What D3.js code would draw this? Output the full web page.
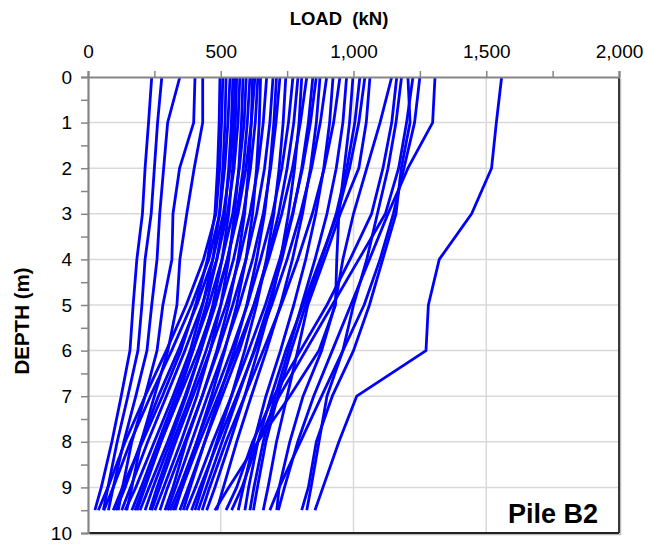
<!DOCTYPE html>
<html>
<head>
<meta charset="utf-8">
<script src="https://cdn.jsdelivr.net/npm/d3@7"></script>
<style>
  body { margin: 0; background: #fff; }
  text { font-family: "Liberation Sans", Arial, sans-serif; }
</style>
</head>
<body>
<svg id="chart" width="650" height="550"></svg>
<script>
// depths (m) at which each pile load profile was read
const depths = [0, 1, 2, 3, 4, 5, 6, 7, 8, 9, 9.5];

const xTicks = [0, 500, 1000, 1500, 2000];
const yTicks = [0, 1, 2, 3, 4, 5, 6, 7, 8, 9, 10];

// left group, nearly vertical near the top
const leftLoads = [
  [240, 228, 215, 205, 184, 170, 158, 125, 90, 50, 26],
  [278, 262, 250, 238, 215, 203, 188, 150, 110, 75, 58],
  [346, 300, 285, 270, 260, 240, 222, 180, 135, 95, 77],
  [403, 398, 345, 320, 316, 282, 260, 215, 165, 130, 114],
  [432, 432, 400, 372, 346, 335, 301, 250, 200, 165, 146]
];

// main bundle
const midLoads = [
  [497, 494, 488, 478, 450, 405, 350, 280, 205, 130, 95],
  [508, 503, 496, 482, 435, 370, 295, 215, 140, 75, 39],
  [520, 516, 508, 495, 470, 432, 385, 320, 250, 180, 140],
  [535, 527, 515, 496, 455, 390, 315, 235, 160, 95, 60],
  [546, 540, 530, 515, 485, 445, 395, 340, 275, 210, 177],
  [555, 548, 535, 510, 470, 410, 340, 265, 200, 140, 105],
  [560, 555, 545, 530, 505, 470, 425, 370, 310, 245, 215],
  [572, 565, 550, 525, 485, 430, 365, 295, 225, 160, 127],
  [584, 578, 568, 552, 530, 500, 460, 410, 350, 285, 252],
  [596, 588, 570, 545, 505, 455, 395, 330, 265, 200, 165],
  [610, 600, 585, 560, 525, 480, 425, 365, 300, 230, 196],
  [620, 615, 605, 590, 565, 530, 485, 430, 370, 320, 290],
  [629, 615, 595, 565, 525, 475, 415, 345, 275, 215, 185],
  [640, 630, 612, 585, 548, 500, 445, 385, 320, 260, 233],
  [650, 645, 635, 620, 595, 560, 515, 465, 410, 355, 328],
  [673, 660, 640, 610, 570, 520, 460, 395, 330, 270, 240],
  [697, 685, 665, 635, 595, 545, 490, 430, 365, 300, 271],
  [710, 700, 685, 665, 635, 598, 550, 495, 440, 385, 359],
  [723, 708, 688, 660, 620, 570, 512, 450, 390, 330, 300],
  [745, 735, 720, 700, 672, 635, 590, 540, 485, 430, 403],
  [772, 755, 730, 695, 650, 600, 540, 475, 410, 345, 309],
  [791, 775, 750, 718, 675, 625, 570, 505, 440, 378, 346],
  [805, 795, 778, 755, 725, 688, 640, 590, 535, 478, 447],
  [824, 800, 770, 730, 680, 625, 560, 490, 420, 355, 320],
  [847, 830, 805, 772, 730, 680, 625, 565, 505, 445, 415],
  [860, 838, 808, 770, 722, 668, 605, 540, 470, 405, 370],
  [874, 860, 838, 808, 770, 725, 672, 615, 560, 510, 485],
  [899, 875, 842, 800, 750, 692, 628, 560, 490, 422, 390],
  [923, 910, 888, 858, 820, 775, 725, 670, 625, 585, 566],
  [949, 925, 890, 845, 790, 728, 660, 590, 520, 458, 430],
  [974, 960, 935, 900, 855, 805, 755, 705, 660, 625, 610],
  [998, 985, 965, 945, 937, 932, 870, 760, 640, 530, 478],
  [1024, 1005, 975, 935, 880, 820, 765, 715, 670, 638, 623],
  [1043, 1020, 985, 940, 875, 810, 745, 690, 640, 605, 591],
  [1062, 1048, 1020, 950, 890, 828, 790, 750, 710, 678, 660]
];

// right group + the one high outlier
const rightLoads = [
  [1144, 1100, 1050, 1000, 960, 930, 880, 810, 760, 720, 711],
  [1163, 1144, 1111, 1068, 987, 900, 800, 700, 620, 560, 520],
  [1181, 1160, 1130, 1090, 1050, 1000, 960, 900, 870, 840, 824],
  [1205, 1213, 1180, 1160, 1110, 1060, 1000, 920, 860, 830, 805],
  [1224, 1200, 1170, 1120, 1020, 920, 820, 720, 640, 580, 541],
  [1250, 1230, 1190, 1150, 1100, 1040, 960, 880, 800, 720, 685],
  [1307, 1298, 1205, 1130, 1060, 990, 920, 850, 790, 740, 717],
  [1558, 1538, 1520, 1445, 1323, 1282, 1273, 1012, 945, 885, 855]
];

const allLoads = leftLoads.concat(midLoads, rightLoads);

const plot = { left: 88, right: 619, top: 77, bottom: 533 };
const svg = d3.select("#chart");

const x = d3.scaleLinear([0, 2000], [plot.left, plot.right]);
const y = d3.scaleLinear([0, 10], [plot.top, plot.bottom]);
const fmt = d3.format(",");

// grid
svg.append("g")
  .selectAll("line")
  .data([500, 1000, 1500])
  .join("line")
  .attr("x1", d => x(d)).attr("x2", d => x(d))
  .attr("y1", plot.top).attr("y2", plot.bottom)
  .attr("stroke", "#d9d9d9").attr("stroke-width", 1.5);

svg.append("g")
  .selectAll("line")
  .data(d3.range(1, 10))
  .join("line")
  .attr("x1", plot.left).attr("x2", plot.right)
  .attr("y1", d => y(d)).attr("y2", d => y(d))
  .attr("stroke", "#d9d9d9").attr("stroke-width", 1.5);

// profiles
const line = d3.line()
  .x(d => x(d[1]))
  .y(d => y(d[0]));

svg.append("g")
  .selectAll("path")
  .data(allLoads)
  .join("path")
  .attr("d", loads => line(loads.map((v, i) => [depths[i], v])))
  .attr("fill", "none")
  .attr("stroke", "#0000ff")
  .attr("stroke-width", 2.8)
  .attr("stroke-linejoin", "round");

// border (right / bottom dark, light shadow)
svg.append("line")
  .attr("x1", plot.right + 1.5).attr("x2", plot.right + 1.5).attr("y1", plot.top + 2).attr("y2", plot.bottom + 2)
  .attr("stroke", "#bbb").attr("stroke-width", 1.5);
svg.append("line")
  .attr("x1", plot.left + 2).attr("x2", plot.right + 1.5).attr("y1", plot.bottom + 1.5).attr("y2", plot.bottom + 1.5)
  .attr("stroke", "#bbb").attr("stroke-width", 1.5);
svg.append("line")
  .attr("x1", plot.right).attr("x2", plot.right).attr("y1", plot.top).attr("y2", plot.bottom)
  .attr("stroke", "#222").attr("stroke-width", 1.8);
svg.append("line")
  .attr("x1", plot.left).attr("x2", plot.right).attr("y1", plot.bottom).attr("y2", plot.bottom)
  .attr("stroke", "#222").attr("stroke-width", 1.8);

// top axis
const gx = svg.append("g")
  .attr("transform", `translate(0,${plot.top})`)
  .call(d3.axisTop(x).tickValues(d3.range(0, 2001, 250)).tickSize(6).tickFormat(d => xTicks.includes(d) ? fmt(d) : ""));
gx.select(".domain").attr("stroke", "#868686").attr("stroke-width", 2.2);
gx.selectAll(".tick line").attr("stroke", "#868686").attr("stroke-width", 1.5);
gx.selectAll(".tick text")
  .attr("font-size", 19)
  .attr("font-family", "Liberation Sans, Arial, sans-serif")
  .attr("fill", "#000")
  .attr("y", -19);

// left axis
const gy = svg.append("g")
  .attr("transform", `translate(${plot.left},0)`)
  .call(d3.axisLeft(y).tickValues(d3.range(0, 10.01, 0.5)).tickSize(7).tickFormat(d => yTicks.includes(d) ? fmt(d) : ""));
gy.select(".domain").attr("stroke", "#868686").attr("stroke-width", 2.2);
gy.selectAll(".tick line").attr("stroke", "#868686").attr("stroke-width", 1.5);
gy.selectAll(".tick text")
  .attr("font-size", 19)
  .attr("font-family", "Liberation Sans, Arial, sans-serif")
  .attr("fill", "#000")
  .attr("x", -16);

// titles
svg.append("text")
  .attr("x", 339).attr("y", 25)
  .attr("text-anchor", "middle")
  .attr("font-size", 18.5).attr("font-weight", "bold")
  .attr("xml:space", "preserve")
  .text("LOAD  (kN)");

svg.append("text")
  .attr("transform", "translate(29,321) rotate(-90)")
  .attr("text-anchor", "middle")
  .attr("font-size", 20.5).attr("font-weight", "bold")
  .text("DEPTH (m)");

svg.append("text")
  .attr("x", 598).attr("y", 523)
  .attr("text-anchor", "end")
  .attr("font-size", 27).attr("font-weight", "bold")
  .text("Pile B2");
</script>
</body>
</html>
